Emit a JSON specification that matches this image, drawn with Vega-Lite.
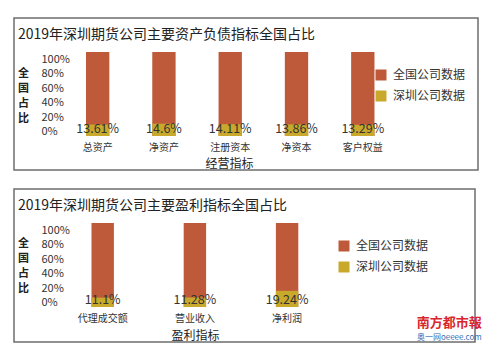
{
  "$schema": "https://vega.github.io/schema/vega-lite/v6.json",
  "padding": {"left": 13, "top": 17, "right": 0, "bottom": 0},
  "background": "white",
  "config": {
    "font": "Noto Sans CJK SC",
    "view": {"stroke": "#6e6e6e", "strokeWidth": 1.5},
    "title": {"font": "Noto Sans CJK SC", "subtitleFont": "Noto Sans CJK SC", "fontWeight": "normal", "color": "#222"},
    "axis": {"labelFont": "Noto Sans CJK SC", "titleFont": "Noto Sans CJK SC", "labelColor": "#333", "titleColor": "#222"},
    "axisY": {"labelOverlap": false, "labelBound": false, "labelFlush": false},
    "legend": {"labelFont": "Noto Sans CJK SC", "labelColor": "#333"},
    "text": {"font": "Noto Sans CJK SC"}
  },
  "spacing": 17,
  "title": {
    "text": "南方都市報",
    "subtitle": "奥一网oeeee.com",
    "orient": "bottom",
    "anchor": "end",
    "offset": -26,
    "font": "Noto Sans CJK SC",
    "fontSize": 13,
    "fontWeight": "bold",
    "color": "#d9262c",
    "subtitleColor": "#3b6fb6",
    "subtitleFontSize": 8,
    "subtitlePadding": 4,
    "dx": 3
  },
  "vconcat": [
    {
      "width": 464,
      "height": 152,
      "title": {"text": "2019年深圳期货公司主要资产负债指标全国占比", "font": "Noto Sans CJK SC", "anchor": "start", "frame": "group", "fontSize": 14, "offset": -24, "dx": 4},
      "data": {"values": [
        {"cat": "总资产", "series": "全国公司数据", "value": 1},
        {"cat": "净资产", "series": "全国公司数据", "value": 1},
        {"cat": "注册资本", "series": "全国公司数据", "value": 1},
        {"cat": "净资本", "series": "全国公司数据", "value": 1},
        {"cat": "客户权益", "series": "全国公司数据", "value": 1},
        {"cat": "总资产", "series": "深圳公司数据", "value": 0.1361},
        {"cat": "净资产", "series": "深圳公司数据", "value": 0.146},
        {"cat": "注册资本", "series": "深圳公司数据", "value": 0.1411},
        {"cat": "净资本", "series": "深圳公司数据", "value": 0.1386},
        {"cat": "客户权益", "series": "深圳公司数据", "value": 0.1329}
      ]},
      "encoding": {
        "x": {
          "field": "cat", "type": "nominal", "sort": null,
          "scale": {"paddingInner": 0, "paddingOuter": 1.212, "align": 0.381},
          "axis": {"title": "经营指标", "labelAngle": 0, "offset": -34, "domain": false, "ticks": false, "labelPadding": 6, "labelFontSize": 10, "titleFontSize": 12, "titleX": 215, "titleY": 27, "titleBaseline": "middle", "titleFontWeight": "normal"}
        }
      },
      "layer": [
        {
          "mark": {"type": "bar", "width": {"band": 0.352}},
          "encoding": {
            "y": {
              "field": "value", "type": "quantitative", "stack": null,
              "scale": {"domain": [-0.405, 1.405], "nice": false, "zero": false},
              "axis": {"title": ["全", "国", "占", "比"], "titleAngle": 0, "titleX": -18, "titleY": 55, "titleAlign": "center", "titleBaseline": "middle", "titleLineHeight": 15, "titleFontSize": 11, "titleFontWeight": "bold",
                "values": [0, 0.2, 0.4, 0.6, 0.8, 1], "format": ".0%", "offset": -27, "labelAlign": "left", "labelPadding": 0, "ticks": false, "domain": false, "grid": false, "labelFontSize": 11, "labelOverlap": false, "labelBound": false, "labelFlush": false, "labelOffset": {"expr": "-4 + 11*datum.value"}}
            },
            "color": {
              "field": "series", "type": "nominal",
              "scale": {"domain": ["全国公司数据", "深圳公司数据"], "range": ["#be5a3a", "#c9a92b"]},
              "legend": {"title": null, "orient": "none", "legendX": 361, "legendY": 51, "symbolType": "square", "symbolSize": 121, "symbolStrokeWidth": 0, "labelFontSize": 12, "rowPadding": 9, "labelOffset": 6}
            }
          }
        },
        {
          "transform": [{"filter": "datum.series === '深圳公司数据'"}],
          "mark": {"type": "text", "dy": -7, "baseline": "middle", "fontSize": 12.5, "color": "#333"},
          "encoding": {
            "y": {"datum": 0, "type": "quantitative",
              "axis": {"title": ["全", "国", "占", "比"], "titleAngle": 0, "titleX": -18, "titleY": 55, "titleAlign": "center", "titleBaseline": "middle", "titleLineHeight": 15, "titleFontSize": 11, "titleFontWeight": "bold",
                "values": [0, 0.2, 0.4, 0.6, 0.8, 1], "format": ".0%", "offset": -27, "labelAlign": "left", "labelPadding": 0, "ticks": false, "domain": false, "grid": false, "labelFontSize": 11, "labelOverlap": false, "labelBound": false, "labelFlush": false, "labelOffset": {"expr": "-4 + 11*datum.value"}}},
            "text": {"field": "value", "type": "quantitative", "format": ".2~%"}
          }
        }
      ]
    },
    {
      "width": 461,
      "height": 153,
      "title": {"text": "2019年深圳期货公司主要盈利指标全国占比", "font": "Noto Sans CJK SC", "anchor": "start", "frame": "group", "fontSize": 14, "offset": -24, "dx": 4},
      "data": {"values": [
        {"cat": "代理成交额", "series": "全国公司数据", "value": 1},
        {"cat": "营业收入", "series": "全国公司数据", "value": 1},
        {"cat": "净利润", "series": "全国公司数据", "value": 1},
        {"cat": "代理成交额", "series": "深圳公司数据", "value": 0.111},
        {"cat": "营业收入", "series": "深圳公司数据", "value": 0.1128},
        {"cat": "净利润", "series": "深圳公司数据", "value": 0.1924}
      ]},
      "encoding": {
        "x": {
          "field": "cat", "type": "nominal", "sort": null,
          "scale": {"paddingInner": 0, "paddingOuter": 1.047, "align": 0.231},
          "axis": {"title": "盈利指标", "labelAngle": 0, "offset": -35, "domain": false, "ticks": false, "labelPadding": 6, "labelFontSize": 10, "titleFontSize": 12, "titleX": 181, "titleY": 28, "titleBaseline": "middle", "titleFontWeight": "normal"}
        }
      },
      "layer": [
        {
          "mark": {"type": "bar", "width": {"band": 0.243}},
          "encoding": {
            "y": {
              "field": "value", "type": "quantitative", "stack": null,
              "scale": {"domain": [-0.417, 1.405], "nice": false, "zero": false},
              "axis": {"title": ["全", "国", "占", "比"], "titleAngle": 0, "titleX": -18, "titleY": 54, "titleAlign": "center", "titleBaseline": "middle", "titleLineHeight": 15, "titleFontSize": 11, "titleFontWeight": "bold",
                "values": [0, 0.2, 0.4, 0.6, 0.8, 1], "format": ".0%", "offset": -27, "labelAlign": "left", "labelPadding": 0, "ticks": false, "domain": false, "grid": false, "labelFontSize": 11, "labelOverlap": false, "labelBound": false, "labelFlush": false, "labelOffset": {"expr": "-4 + 11*datum.value"}}
            },
            "color": {
              "field": "series", "type": "nominal",
              "scale": {"domain": ["全国公司数据", "深圳公司数据"], "range": ["#be5a3a", "#c9a92b"]},
              "legend": {"title": null, "orient": "none", "legendX": 324, "legendY": 51, "symbolType": "square", "symbolSize": 121, "symbolStrokeWidth": 0, "labelFontSize": 12, "rowPadding": 9, "labelOffset": 6}
            }
          }
        },
        {
          "transform": [{"filter": "datum.series === '深圳公司数据'"}],
          "mark": {"type": "text", "dy": -7, "baseline": "middle", "fontSize": 12.5, "color": "#333"},
          "encoding": {
            "y": {"datum": 0, "type": "quantitative",
              "axis": {"title": ["全", "国", "占", "比"], "titleAngle": 0, "titleX": -18, "titleY": 54, "titleAlign": "center", "titleBaseline": "middle", "titleLineHeight": 15, "titleFontSize": 11, "titleFontWeight": "bold",
                "values": [0, 0.2, 0.4, 0.6, 0.8, 1], "format": ".0%", "offset": -27, "labelAlign": "left", "labelPadding": 0, "ticks": false, "domain": false, "grid": false, "labelFontSize": 11, "labelOverlap": false, "labelBound": false, "labelFlush": false, "labelOffset": {"expr": "-4 + 11*datum.value"}}},
            "text": {"field": "value", "type": "quantitative", "format": ".2~%"}
          }
        }
      ]
    }
  ],
  "resolve": {"scale": {"color": "independent"}, "legend": {"color": "independent"}}
}
